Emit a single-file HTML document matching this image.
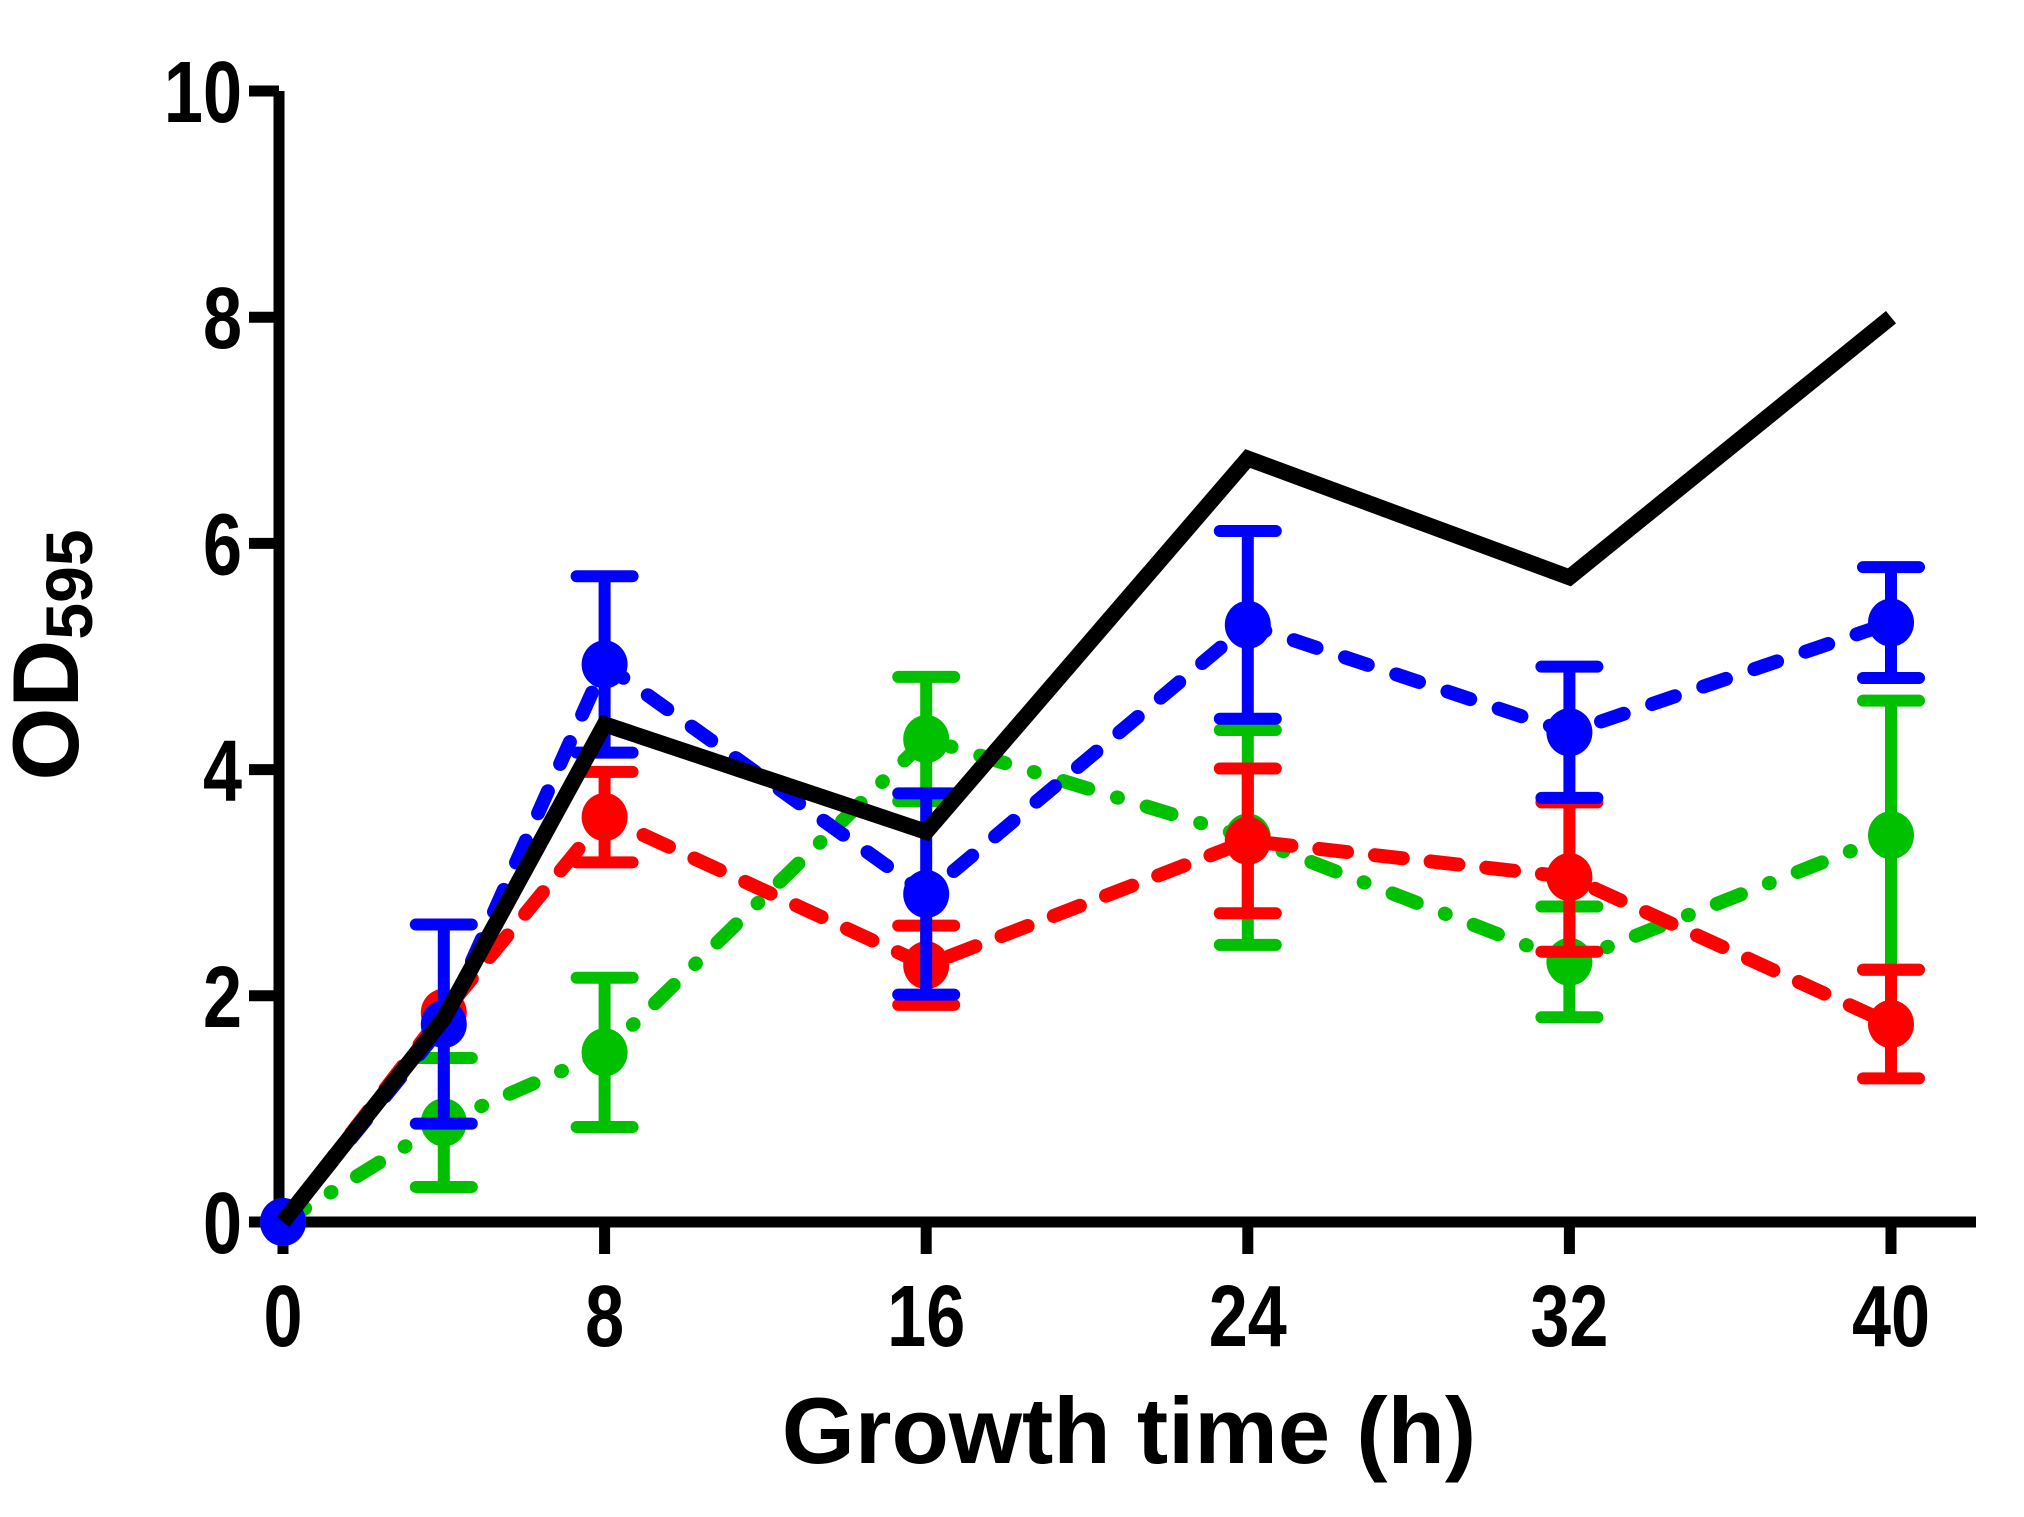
<!DOCTYPE html>
<html><head><meta charset="utf-8"><style>
html,body{margin:0;padding:0;background:#fff;}
svg{display:block;}
text{font-family:"Liberation Sans",Arial,sans-serif;font-weight:bold;fill:#000;}
</style></head><body>
<svg id="chart" width="2024" height="1517" viewBox="0 0 2024 1517" xmlns="http://www.w3.org/2000/svg">
<g id="axes"></g>
<g id="series"></g>
<text x="1129" y="1463" font-size="94" text-anchor="middle">Growth time (h)</text>
<text transform="translate(78,655) rotate(-90)" font-size="94" text-anchor="middle">OD<tspan font-size="66" dy="14">595</tspan></text>
</svg>
<script>
const times = [0, 4, 8, 16, 24, 32, 40];
const xTicks = [0, 8, 16, 24, 32, 40];
const yTicks = [0, 2, 4, 6, 8, 10];
const blackVals = [0, 1.8, 4.4, 3.45, 6.75, 5.7, 8.0];
const blueVals = [0, 1.75, 4.93, 2.9, 5.28, 4.33, 5.3];
const blueErr = [0, 0.88, 0.78, 0.89, 0.83, 0.58, 0.49];
const redVals = [0, 1.85, 3.58, 2.27, 3.37, 3.05, 1.75];
const redErr = [0, 0, 0.4, 0.35, 0.64, 0.66, 0.48];
const greenVals = [0, 0.88, 1.5, 4.27, 3.4, 2.3, 3.42];
const greenErr = [0, 0.57, 0.66, 0.55, 0.95, 0.49, 1.19];

const NS = "http://www.w3.org/2000/svg";
const X0 = 283, X1 = 1891, Y0 = 1222, Y1 = 91;
function xs(v){ return X0 + (v/40)*(X1-X0); }
function ys(v){ return Y0 - (v/10)*(Y0-Y1); }
function mk(tag, attrs, parent){
  const e = document.createElementNS(NS, tag);
  for (const k in attrs) e.setAttribute(k, attrs[k]);
  parent.appendChild(e);
  return e;
}
const axes = document.getElementById('axes');
const ser = document.getElementById('series');

let el = mk('line', {x1:X0-4, y1:Y0, x2:1976, y2:Y0, stroke:'#000','stroke-width':11}, axes);


el = mk('line', {x1:X0-4, y1:Y1, x2:X0-4, y2:Y0+5, stroke:'#000','stroke-width':11}, axes);



xTicks.forEach(t => {
  const tk = mk('line', {x1:xs(t), y1:Y0, x2:xs(t), y2:1254, stroke:'#000','stroke-width':11}, axes);
  
  
  const lb = mk('text', {transform:'translate('+xs(t)+',1346) scale(0.9,1.12)', 'font-size':78, 'text-anchor':'middle'}, axes);
  lb.textContent = t;
  
  
});
yTicks.forEach(t => {
  const tk = mk('line', {x1:249, y1:ys(t), x2:X0-4, y2:ys(t), stroke:'#000','stroke-width':11}, axes);
  
  
  const lb = mk('text', {transform:'translate(242,'+(ys(t)+31)+') scale(0.9,1.12)', 'font-size':78, 'text-anchor':'end'}, axes);
  lb.textContent = t;
  
  
});

function pts(vals){ return vals.map((v,i)=>xs(times[i])+','+ys(vals[i])).join(' '); }

function series(name, vals, errs, color, dash){
  const g = mk('g', {}, ser);
  
  
  const pl = mk('polyline', {points:pts(vals), fill:'none', stroke:color, 'stroke-width':14, 'stroke-dasharray':dash, 'stroke-linecap':'round', 'stroke-linejoin':'round'}, g);
  
  
  vals.forEach((v,i) => {
    const e = errs[i];
    if (e > 0) {
      const cx = xs(times[i]);
      const eb = mk('path', {d:'M'+cx+' '+ys(v+e)+'V'+ys(v-e)+'M'+(cx-28)+' '+ys(v+e)+'H'+(cx+28)+'M'+(cx-28)+' '+ys(v-e)+'H'+(cx+28), stroke:color, 'stroke-width':12, 'stroke-linecap':'round', fill:'none'}, g);
      
      
    }
    const c = mk('ellipse', {cx:xs(times[i]), cy:ys(v), rx:23, ry:24, fill:color}, g);
    
    
  });
}
series('green', greenVals, greenErr, '#00c000', '26 30 1 30');
series('red', redVals, redErr, '#ff0000', '28 28');
series('blue', blueVals, blueErr, '#0000ff', '24 30');

const bl = mk('polyline', {points:pts(blackVals), fill:'none', stroke:'#000', 'stroke-width':16, 'stroke-linejoin':'miter'}, ser);


</script>
</body></html>
